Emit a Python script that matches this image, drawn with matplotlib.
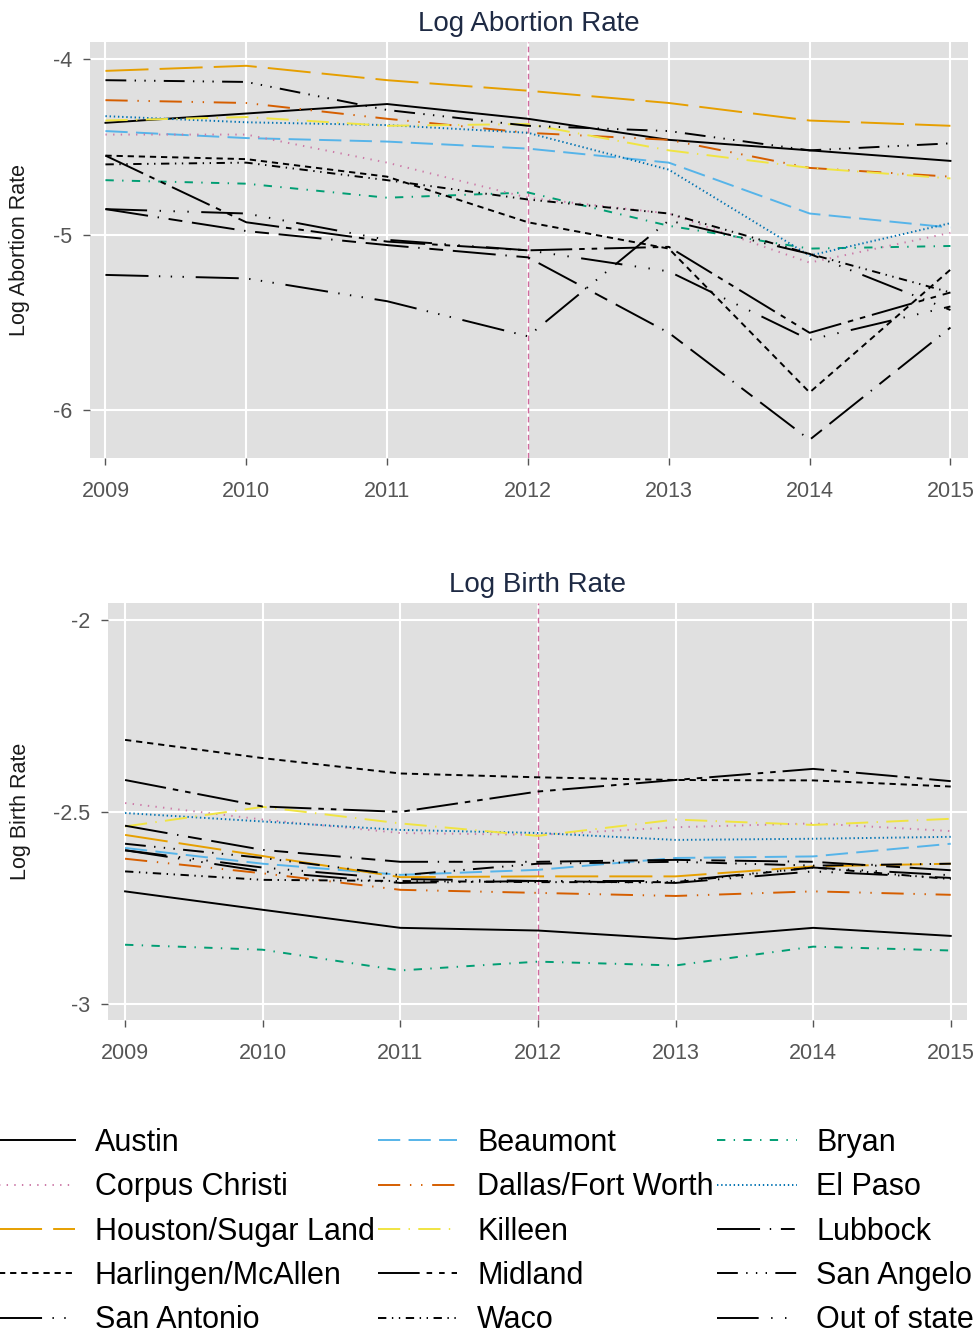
import matplotlib.pyplot as plt

plt.rcParams['font.family'] = ['Liberation Sans', 'DejaVu Sans']
plt.rcParams['lines.scale_dashes'] = False

# ----------------------------
# DATA
# ----------------------------
years = [2009, 2010, 2011, 2012, 2013, 2014, 2015]

regions = ["Austin", "Beaumont", "Bryan",
           "Corpus Christi", "Dallas/Fort Worth", "El Paso",
           "Houston/Sugar Land", "Killeen", "Lubbock",
           "Harlingen/McAllen", "Midland", "San Angelo",
           "San Antonio", "Waco", "Out of state"]

# log abortion rate
ab_austin = [-4.363, -4.31, -4.256, -4.34, -4.46, -4.52, -4.58]
ab_beaumont = [-4.41, -4.45, -4.47, -4.51, -4.59, -4.88, -4.96]
ab_bryan = [-4.69, -4.71, -4.79, -4.76, -4.95, -5.08, -5.065]
ab_corpus = [-4.43, -4.43, -4.59, -4.79, -4.88, -5.16, -4.99]
ab_dallas = [-4.234, -4.25, -4.34, -4.42, -4.46, -4.62, -4.67]
ab_elpaso = [-4.325, -4.36, -4.376, -4.42, -4.63, -5.12, -4.935]
ab_houston = [-4.067, -4.038, -4.12, -4.18, -4.25, -4.35, -4.38]
ab_killeen = [-4.35, -4.33, -4.38, -4.37, -4.52, -4.62, -4.68]
ab_lubbock = [-4.855, -4.98, -5.06, -5.13, -5.56, -6.17, -5.53]
ab_harlingen = [-4.55, -4.57, -4.67, -4.93, -5.08, -5.90, -5.20]
ab_midland = [-4.55, -4.93, -5.04, -5.09, -5.07, -5.56, -5.33]
ab_sanangelo = [-4.12, -4.13, -4.29, -4.38, -4.41, -4.52, -4.48]
ab_sanantonio = [-5.23, -5.25, -5.38, -5.58, -4.92, -5.11, -5.43]
ab_waco = [-4.60, -4.59, -4.69, -4.80, -4.88, -5.11, -5.33]
ab_outofstate = [-4.855, -4.88, -5.03, -5.09, -5.21, -5.60, -5.41]

# log birth rate
br_austin = [-2.707, -2.755, -2.802, -2.809, -2.831, -2.802, -2.823]
br_beaumont = [-2.594, -2.635, -2.664, -2.651, -2.62, -2.616, -2.583]
br_bryan = [-2.846, -2.859, -2.913, -2.89, -2.90, -2.851, -2.861]
br_corpus = [-2.477, -2.52, -2.555, -2.56, -2.54, -2.53, -2.55]
br_dallas = [-2.622, -2.66, -2.703, -2.711, -2.719, -2.707, -2.716]
br_elpaso = [-2.503, -2.525, -2.547, -2.555, -2.573, -2.57, -2.565]
br_houston = [-2.56, -2.615, -2.67, -2.668, -2.668, -2.642, -2.635]
br_killeen = [-2.538, -2.487, -2.53, -2.5625, -2.52, -2.534, -2.518]
br_lubbock = [-2.536, -2.599, -2.63, -2.63, -2.625, -2.63, -2.652]
br_harlingen = [-2.3125, -2.36, -2.40, -2.41, -2.417, -2.418, -2.434]
br_midland = [-2.417, -2.486, -2.50, -2.447, -2.417, -2.388, -2.42]
br_sanangelo = [-2.583, -2.62, -2.665, -2.635, -2.63, -2.64, -2.635]
br_sanantonio = [-2.60, -2.655, -2.685, -2.68, -2.685, -2.655, -2.672]
br_waco = [-2.655, -2.677, -2.68, -2.683, -2.683, -2.645, -2.675]
br_outofstate = [-2.60, -2.645, -2.675, -2.68, -2.68, -2.645, -2.665]

abortion = [ab_austin, ab_beaumont, ab_bryan, ab_corpus, ab_dallas, ab_elpaso,
            ab_houston, ab_killeen, ab_lubbock, ab_harlingen, ab_midland,
            ab_sanangelo, ab_sanantonio, ab_waco, ab_outofstate]
births = [br_austin, br_beaumont, br_bryan, br_corpus, br_dallas, br_elpaso,
          br_houston, br_killeen, br_lubbock, br_harlingen, br_midland,
          br_sanangelo, br_sanantonio, br_waco, br_outofstate]

# ----------------------------
# STYLES (colour, dash pattern in points)
# ----------------------------
styles = [
    ("black", None),
    ("#56B4E9", (16, 6)),
    ("#009E73", (6, 6, 1, 6)),
    ("#CC79A7", (1, 4.5)),
    ("#D55E00", (16, 7, 1, 7, 1, 7)),
    ("#0072B2", (1, 2)),
    ("#E69F00", (31, 8)),
    ("#F0E442", (16, 6, 1, 6)),
    ("black", (31, 7, 1, 7, 10, 7)),
    ("black", (4.5, 3.5)),
    ("black", (30, 5, 4, 5, 4, 5)),
    ("black", (15, 6, 1, 6, 1, 6, 1, 6)),
    ("black", (31, 7.5, 1, 7.5, 1, 7.5, 1, 8.5)),
    ("black", (6, 4, 1, 4, 1, 4)),
    ("black", (30, 9, 1, 9, 1, 9, 1, 9)),
]

bg = "#e0e0e0"
tick_col = "#555555"
title_col = "#1e2a44"


def panel(ax, series, yticks, ylabels, ylim, title, ylabel):
    ax.set_facecolor(bg)
    for s in ax.spines.values():
        s.set_visible(False)
    ax.set_xlim(2008.89, 2015.125)
    ax.set_ylim(*ylim)
    ax.set_xticks(years)
    ax.set_yticks(yticks)
    ax.set_yticklabels(ylabels)
    ax.grid(True, color="white", lw=1.5)
    ax.set_axisbelow(True)
    ax.tick_params(colors=tick_col, labelsize=15.5, length=5, width=1, pad=8)
    ax.tick_params(axis="x", pad=11.5)
    ax.axvline(2012, color="#d06a9e", lw=1.0, dashes=(4, 2.5))
    lines = []
    for name, vals, (col, dash) in zip(regions, series, styles):
        if dash is None:
            ln, = ax.plot(years, vals, color=col, lw=1.4, label=name)
        else:
            ln, = ax.plot(years, vals, color=col, lw=1.4, dashes=dash, label=name)
        lines.append(ln)
    ax.set_title(title, fontsize=20, color=title_col, pad=8)
    ax.set_ylabel(ylabel, fontsize=15.5, color="#1a1a1a", labelpad=16)
    return lines


fig = plt.figure(figsize=(9.8, 13.37), dpi=100)
ax1 = fig.add_axes([0.0918, 0.6574, 0.896, 0.3111])
ax2 = fig.add_axes([0.1102, 0.2371, 0.8765, 0.3119])

handles = panel(ax1, abortion, [-4, -5, -6], ["-4", "-5", "-6"], (-6.274, -3.903),
                "Log Abortion Rate", "Log Abortion Rate")
panel(ax2, births, [-2, -2.5, -3], ["-2", "-2.5", "-3"], (-3.042, -1.956),
      "Log Birth Rate", "Log Birth Rate")
ax2.set_xlim(2008.876, 2015.118)

# legend is filled row by row, matplotlib fills column by column
ncol, nrow = 3, 5
ordered = [handles[r * ncol + c] for c in range(ncol) for r in range(nrow)]

fig.legend(handles=ordered, loc="upper left", bbox_to_anchor=(-0.0051, 0.1563),
           ncol=ncol, frameon=False, fontsize=22, handlelength=2.61,
           handletextpad=0.65, columnspacing=0.1, labelspacing=0.47,
           borderpad=0, borderaxespad=0)

fig.savefig("out.png", dpi=100)
